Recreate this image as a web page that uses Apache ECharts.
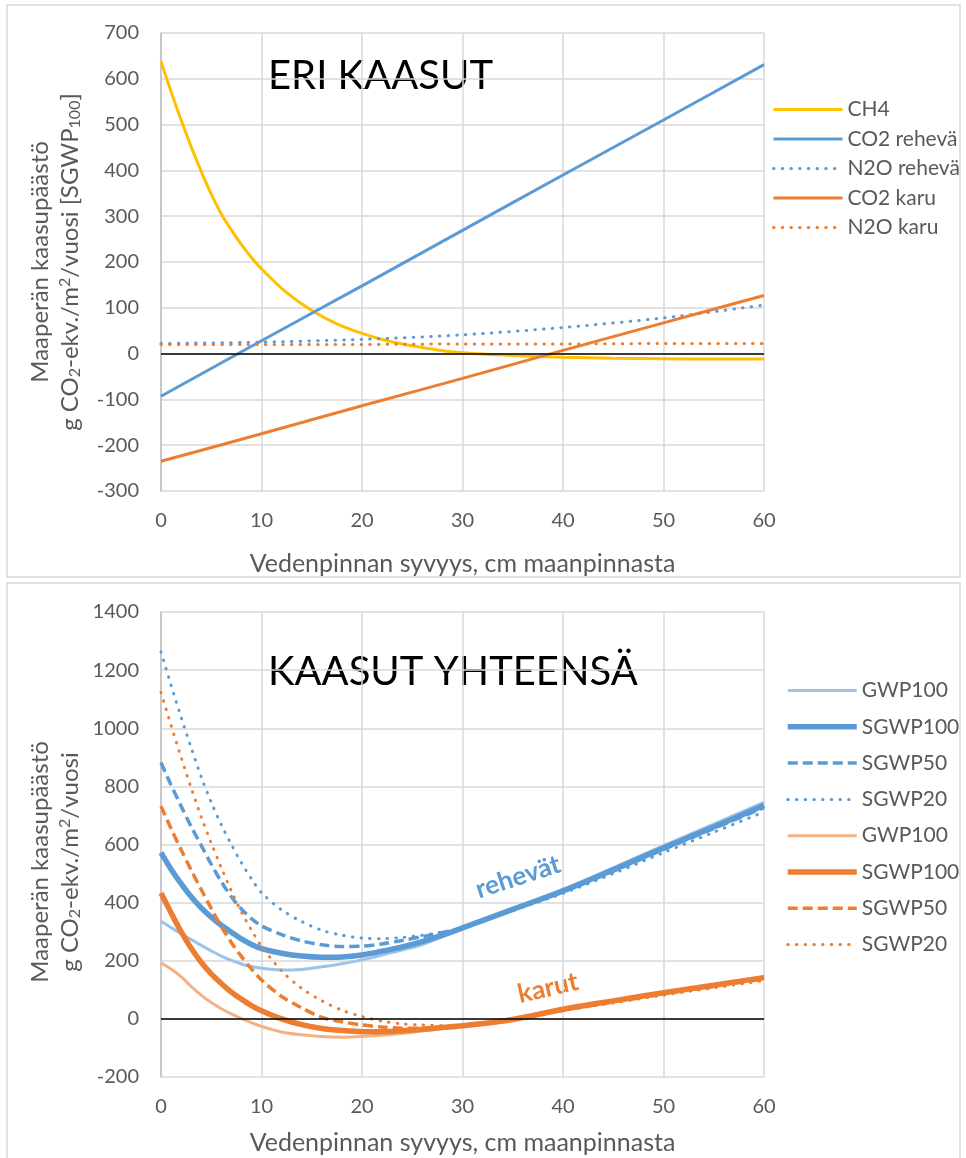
<!DOCTYPE html>
<html><head><meta charset="utf-8">
<script src="https://cdn.jsdelivr.net/npm/echarts@6/dist/echarts.min.js"></script>
<style>html,body{margin:0;padding:0;background:#fff}#c{width:966px;height:1158px}</style>
</head><body><div id="c"></div>
<script>
// ---------- Top chart: ERI KAASUT ----------
const depthTop = [0, 10, 20, 30, 40, 50, 60];
const co2Rehevä = [-93, 28, 148, 269, 390, 510, 631];
const n2oRehevä = [22, 25, 31, 41, 57, 78, 106];
const co2Karu = [-235, -175, -114, -54, 7, 67, 127];
const n2oKaru = [20, 20, 20, 21, 21, 22, 22];
const depthCH4 = [0, 1, 2, 3, 4, 5, 6, 7, 8, 9, 10, 12.5, 15, 17.5, 20, 22.5, 25, 27.5, 30, 35, 40, 45, 50, 55, 60];
const ch4 = [638, 572, 510, 452, 398, 348, 305, 270, 238, 210, 185, 133, 94, 65, 44, 28, 17, 8, 2, -4, -8, -10, -11, -12, -12];

// ---------- Bottom chart: KAASUT YHTEENSÄ ----------
const depthTot = [0, 1, 2, 3, 4, 5, 6, 7, 8, 9, 10, 12, 14, 16, 18, 20, 22, 24, 26, 28, 30, 35, 40, 45, 50, 55, 60];
const rehGWP100  = [336, 314, 293, 273, 253, 234, 216, 201, 189, 180, 174, 168, 170, 179, 190, 203, 220, 237, 256, 283, 313, 380, 446, 520, 596, 670, 745];
const rehSGWP100 = [572, 515, 465, 420, 382, 350, 322, 298, 275, 256, 242, 226, 216, 212, 213, 220, 233, 248, 266, 288, 313, 377, 440, 513, 588, 660, 735];
const rehSGWP50  = [882, 805, 732, 662, 597, 532, 472, 420, 378, 345, 320, 290, 268, 255, 249, 250, 258, 270, 283, 297, 313, 375, 437, 508, 583, 655, 727];
const rehSGWP20  = [1263, 1148, 1038, 933, 833, 745, 668, 600, 537, 482, 434, 375, 335, 305, 288, 278, 276, 280, 288, 299, 313, 372, 432, 500, 572, 642, 712];
const karGWP100  = [192, 172, 145, 112, 82, 56, 35, 17, 1, -13, -26, -45, -55, -61, -63, -61, -56, -50, -42, -33, -24, -2, 32, 62, 92, 118, 145];
const karSGWP100 = [433, 365, 300, 243, 195, 155, 122, 92, 68, 46, 28, 0, -20, -33, -40, -44, -44, -41, -36, -30, -24, -2, 33, 62, 90, 116, 142];
const karSGWP50  = [732, 655, 582, 512, 445, 380, 318, 263, 215, 172, 134, 77, 38, 5, -10, -21, -28, -32, -32, -28, -24, -3, 30, 58, 86, 112, 138];
const karSGWP20  = [1123, 1010, 900, 795, 695, 605, 520, 440, 368, 305, 250, 165, 105, 62, 30, 8, -8, -17, -21, -23, -24, -4, 28, 55, 82, 107, 132];

const topNames = ['CH4', 'CO2 rehevä', 'N2O rehevä', 'CO2 karu', 'N2O karu'];
const botNames = ['GWP100 r', 'SGWP100 r', 'SGWP50 r', 'SGWP20 r', 'GWP100 k', 'SGWP100 k', 'SGWP50 k', 'SGWP20 k'];

const BLUE = '#5b9bd5', LBLUE = '#9dc3e6', ORANGE = '#ed7d31', LORANGE = '#f4b183', GOLD = '#ffc000';
const FONT = 'Lato';
const GREY = '#595959';
const DOT = [0.5, 8.2];
const DASH = [10, 5];

function pairs(xs, ys) { return xs.map((x, i) => [x, ys[i]]); }
function line(name, xi, yi, xs, ys, color, width, type) {
  return {
    name, type: 'line', xAxisIndex: xi, yAxisIndex: yi, data: pairs(xs, ys),
    smooth: 0.3, symbol: 'none', showSymbol: false,
    lineStyle: { color, width, type: type || 'solid', cap: type === DOT ? 'round' : 'butt' },
    itemStyle: { color }, z: 3
  };
}
const zeroLine = {
  silent: true, symbol: 'none', label: { show: false },
  lineStyle: { color: '#000', width: 1.5, type: 'solid' }, data: [{ yAxis: 0 }]
};

const xAxisBase = {
  type: 'value', min: 0, max: 60, interval: 10,
  axisLine: { show: false }, axisTick: { show: false },
  splitLine: { show: true, lineStyle: { color: '#d9d9d9', width: 1.5 } },
  axisLabel: { color: GREY, fontFamily: FONT, fontSize: 20, margin: 20 },
  name: 'Vedenpinnan syvyys, cm maanpinnasta', nameLocation: 'middle',
  nameTextStyle: { color: GREY, fontFamily: FONT, fontSize: 25 }
};
const yAxisBase = {
  type: 'value', axisTick: { show: false },
  axisLine: { show: true, onZero: false, lineStyle: { color: '#bfbfbf', width: 1.5 } },
  splitLine: { show: true, lineStyle: { color: '#d9d9d9', width: 1.5 } },
  axisLabel: { color: GREY, fontFamily: FONT, fontSize: 20, margin: 22, formatter: v => String(v) }
};

const richY = {
  n: { fontFamily: FONT, fontSize: 24, color: GREY },
  sub: { fontFamily: FONT, fontSize: 16, color: GREY, padding: [10, 0, 0, 0] },
  sup: { fontFamily: FONT, fontSize: 16, color: GREY, padding: [0, 0, 10, 0] }
};
function yTitle(x, y, text) {
  return { type: 'text', x, y, rotation: Math.PI / 2, silent: true,
    style: { text, rich: richY, align: 'center', verticalAlign: 'middle', fill: GREY } };
}

const legendBase = {
  orient: 'vertical', itemWidth: 69, itemHeight: 12, selectedMode: false,
  itemStyle: { opacity: 0 },
  lineStyle: { width: 'inherit' },
  textStyle: { color: GREY, fontFamily: FONT, fontSize: 21, lineHeight: 20 }
};

const option = {
  animation: false,
  backgroundColor: '#fff',
  grid: [
    { left: 161, top: 33, width: 603, height: 458 },
    { left: 161, top: 612, width: 603, height: 465 }
  ],
  xAxis: [
    Object.assign({}, xAxisBase, { gridIndex: 0, nameGap: 60 }),
    Object.assign({}, xAxisBase, { gridIndex: 1, nameGap: 53 })
  ],
  yAxis: [
    Object.assign({}, yAxisBase, { gridIndex: 0, min: -300, max: 700, interval: 100 }),
    Object.assign({}, yAxisBase, { gridIndex: 1, min: -200, max: 1400, interval: 200 })
  ],
  legend: [
    Object.assign({}, legendBase, { left: 767, top: 94, itemGap: 8.5, data: topNames }),
    Object.assign({}, legendBase, { left: 780, top: 675, itemGap: 15.3, data: botNames,
      formatter: n => n.split(' ')[0] })
  ],
  series: [
    Object.assign(line(topNames[0], 0, 0, depthCH4, ch4, GOLD, 3), { markLine: zeroLine }),
    line(topNames[1], 0, 0, depthTop, co2Rehevä, BLUE, 3),
    line(topNames[2], 0, 0, depthTop, n2oRehevä, BLUE, 3, DOT),
    line(topNames[3], 0, 0, depthTop, co2Karu, ORANGE, 3),
    line(topNames[4], 0, 0, depthTop, n2oKaru, ORANGE, 3, DOT),

    Object.assign(line(botNames[0], 1, 1, depthTot, rehGWP100, LBLUE, 3), { markLine: zeroLine }),
    line(botNames[1], 1, 1, depthTot, rehSGWP100, BLUE, 5.5),
    line(botNames[2], 1, 1, depthTot, rehSGWP50, BLUE, 3.5, DASH),
    line(botNames[3], 1, 1, depthTot, rehSGWP20, BLUE, 3, DOT),
    line(botNames[4], 1, 1, depthTot, karGWP100, LORANGE, 3),
    line(botNames[5], 1, 1, depthTot, karSGWP100, ORANGE, 5.5),
    line(botNames[6], 1, 1, depthTot, karSGWP50, ORANGE, 3.5, DASH),
    line(botNames[7], 1, 1, depthTot, karSGWP20, ORANGE, 3, DOT)
  ],
  graphic: [
    { type: 'rect', silent: true, shape: { x: 7, y: 5, width: 953, height: 572 },
      style: { fill: 'none', stroke: '#d9d9d9', lineWidth: 1.5 } },
    { type: 'rect', silent: true, shape: { x: 7, y: 583, width: 953, height: 585 },
      style: { fill: 'none', stroke: '#d9d9d9', lineWidth: 1.5 } },
    { type: 'text', x: 268, y: 76, silent: true,
      style: { text: 'ERI KAASUT', fontFamily: FONT, fontSize: 40, fill: '#000', align: 'left', verticalAlign: 'middle' } },
    { type: 'text', x: 268, y: 672, silent: true,
      style: { text: 'KAASUT YHTEENSÄ', fontFamily: FONT, fontSize: 40, fill: '#000', align: 'left', verticalAlign: 'middle' } },
    yTitle(40, 262, '{n|Maaperän kaasupäästö}'),
    yTitle(70, 262, '{n|g CO}{sub|2}{n|-ekv./m}{sup|2}{n|/vuosi [SGWP}{sub|100}{n|]}'),
    yTitle(40, 862, '{n|Maaperän kaasupäästö}'),
    yTitle(70, 862, '{n|g CO}{sub|2}{n|-ekv./m}{sup|2}{n|/vuosi}'),
    { type: 'text', x: 518, y: 877, rotation: 18 * Math.PI / 180, silent: true,
      style: { text: 'rehevät', fontFamily: FONT, fontWeight: 'bold', fontSize: 26, fill: BLUE, align: 'center', verticalAlign: 'middle' } },
    { type: 'text', x: 548, y: 988, rotation: 13 * Math.PI / 180, silent: true,
      style: { text: 'karut', fontFamily: FONT, fontWeight: 'bold', fontSize: 26, fill: ORANGE, align: 'center', verticalAlign: 'middle' } }
  ]
};
const chart = echarts.init(document.getElementById('c'), null, { renderer: 'canvas' });
chart.setOption(option);
</script>
</body></html>
